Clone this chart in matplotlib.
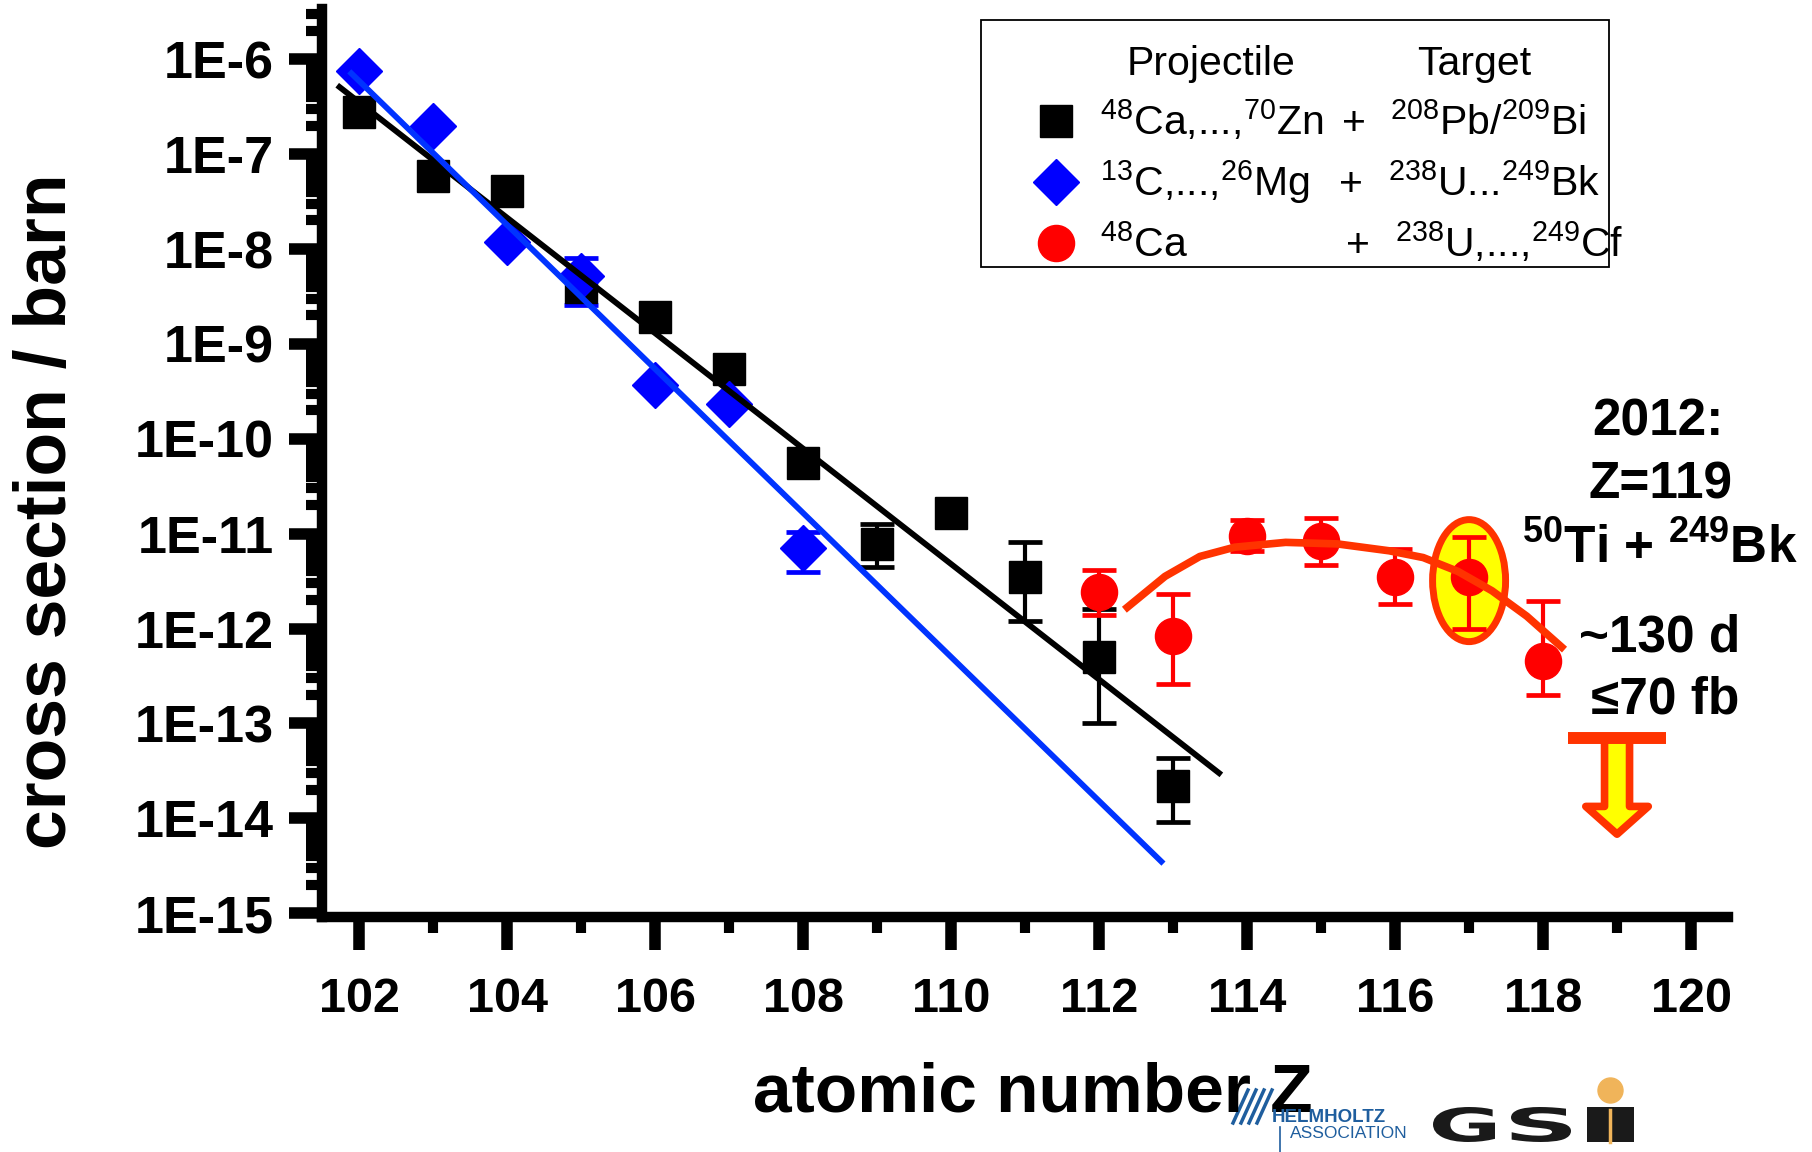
import numpy as np
import matplotlib
matplotlib.use('Agg')
import matplotlib.pyplot as plt
from matplotlib.patches import Ellipse, Rectangle, PathPatch
from matplotlib.lines import Line2D
from matplotlib.textpath import TextPath
from matplotlib.font_manager import FontProperties
from matplotlib.transforms import ScaledTranslation, Affine2D, IdentityTransform
from matplotlib.ticker import FixedLocator, FixedFormatter, LogLocator, NullFormatter

plt.rcParams['font.family'] = ['Liberation Sans', 'DejaVu Sans']
plt.rcParams['mathtext.fontset'] = 'custom'
plt.rcParams['mathtext.rm'] = 'Liberation Sans'
plt.rcParams['mathtext.bf'] = 'Liberation Sans:bold'
plt.rcParams['mathtext.it'] = 'Liberation Sans:italic'

# --- data (cross sections in barn) ---
# 48Ca,...,70Zn + 208Pb/209Bi (cold fusion)
z_cold = [102, 103, 104, 105, 106, 107, 108, 109, 110, 111, 112, 113]
xs_cold = [2.8e-7, 5.9e-8, 4.1e-8, 4.0e-9, 1.9e-9, 5.4e-10, 5.6e-11, 7.8e-12, 1.66e-11, 3.5e-12, 5.0e-13, 2.2e-14]
z_cold_err = [109, 111, 112, 113]
xs_cold_err = [7.8e-12, 3.5e-12, 5.0e-13, 2.2e-14]
cold_hi = [1.26e-11, 8.1e-12, 1.6e-12, 4.3e-14]
cold_lo = [4.5e-12, 1.2e-12, 1.0e-13, 9.1e-15]

# 13C,...,26Mg + 238U...249Bk
z_light = [102, 103, 104, 105, 106, 107, 108]
xs_light = [7.6e-7, 2.0e-7, 1.2e-8, 5.2e-9, 3.7e-10, 2.3e-10, 7.1e-12]
z_light_err = [105, 108]
xs_light_err = [5.2e-9, 7.1e-12]
light_hi = [8.1e-9, 1.05e-11]
light_lo = [2.6e-9, 3.9e-12]

# 48Ca + 238U,...,249Cf
z_hot = [112, 113, 114, 115, 116, 117, 118]
xs_hot = [2.4e-12, 8.3e-13, 9.5e-12, 8.3e-12, 3.5e-12, 3.5e-12, 4.5e-13]
hot_hi = [4.1e-12, 2.3e-12, 1.4e-11, 1.45e-11, 6.9e-12, 9.3e-12, 1.95e-12]
hot_lo = [1.4e-12, 2.6e-13, 6.5e-12, 4.7e-12, 1.8e-12, 1.0e-12, 2.0e-13]

# trend lines
z_fit_cold = [101.73, 113.62]
xs_fit_cold = [5.1e-7, 3.0e-14]
z_fit_light = [101.89, 112.84]
xs_fit_light = [7.1e-7, 3.5e-15]
z_fit_hot = [112.34, 112.89, 113.36, 113.83, 114.52, 115.22, 115.92, 116.38, 116.85, 117.31, 117.78, 118.29]
xs_fit_hot = [1.58e-12, 3.55e-12, 5.75e-12, 7.2e-12, 8.1e-12, 7.8e-12, 6.6e-12, 5.6e-12, 4.0e-12, 2.5e-12, 1.35e-12, 6.0e-13]

# Z=119 upper limit (70 fb)
z_limit = 119
xs_limit = 7e-14
xs_arrow_tip = 6.8e-15
z_highlight = 117
xs_highlight = 3.2e-12

ytick_vals = [1e-15, 1e-14, 1e-13, 1e-12, 1e-11, 1e-10, 1e-9, 1e-8, 1e-7, 1e-6]
ytick_labels = ['1E-15', '1E-14', '1E-13', '1E-12', '1E-11', '1E-10', '1E-9', '1E-8', '1E-7', '1E-6']

W, H = 1812, 1152
fig = plt.figure(figsize=(W / 100, H / 100), dpi=100)

def fx(px):
    return px / W

def fy(py):
    return 1 - py / H

ax = fig.add_axes([0.17798, 0.2040, 0.77566, 0.7882])
ax.set_yscale('log')
ax.set_xlim(101.5, 120.5)
ax.set_ylim(10 ** -15.04, 10 ** -5.47)

red = '#ff0000'
orange = '#ff3300'

# highlight ellipse around Z=117
ell = Ellipse((0, 0), 0.73, 1.22, facecolor='#ffff00', edgecolor=orange, lw=5,
              transform=fig.dpi_scale_trans + ScaledTranslation(z_highlight, xs_highlight, ax.transData),
              zorder=2)
ax.add_patch(ell)

# error bars
ax.errorbar(z_cold_err, xs_cold_err,
            yerr=[np.subtract(xs_cold_err, cold_lo), np.subtract(cold_hi, xs_cold_err)],
            fmt='none', ecolor='k', elinewidth=3, capsize=12, capthick=3.4, zorder=3)
ax.errorbar(z_light_err, xs_light_err,
            yerr=[np.subtract(xs_light_err, light_lo), np.subtract(light_hi, xs_light_err)],
            fmt='none', ecolor='#0000ff', elinewidth=3, capsize=12, capthick=3.4, zorder=3)
ax.errorbar(z_hot, xs_hot,
            yerr=[np.subtract(xs_hot, hot_lo), np.subtract(hot_hi, xs_hot)],
            fmt='none', ecolor=red, elinewidth=3, capsize=12, capthick=3.4, zorder=3)

# markers
ax.plot(z_cold, xs_cold, 's', ms=23, color='k', mec='k', mew=1, zorder=4)
ax.plot(z_light, xs_light, 'D', ms=23, color='#0000ff', mec='#0000ff', mew=1, zorder=4)
ax.plot(z_hot, xs_hot, 'o', ms=26, color=red, mec=red, mew=1, zorder=4)

# trend lines
ax.plot(z_fit_cold, xs_fit_cold, '-', color='k', lw=4.2, zorder=5)
ax.plot(z_fit_light, xs_fit_light, '-', color='#0033ff', lw=4.2, zorder=5)
ax.plot(z_fit_hot, xs_fit_hot, '-', color=orange, lw=5.5, zorder=5, solid_capstyle='butt')

# upper limit for Z=119
ax.annotate('', xy=(z_limit, xs_arrow_tip), xytext=(z_limit, xs_limit),
            arrowprops=dict(arrowstyle='simple,head_length=20,head_width=45,tail_width=18',
                            mutation_scale=1, fc='#ffff00', ec=orange, lw=5.5,
                            shrinkA=0, shrinkB=0),
            annotation_clip=False, zorder=5)
ax.hlines(xs_limit, z_limit - 0.66, z_limit + 0.66, color=orange, lw=8.6, zorder=6)

# axes styling
for s in ['top', 'right']:
    ax.spines[s].set_visible(False)
for s in ['left', 'bottom']:
    ax.spines[s].set_linewidth(7.5)
ax.set_xticks(np.arange(102, 121, 2))
ax.set_xticks(np.arange(103, 120, 2), minor=True)
ax.yaxis.set_major_locator(FixedLocator(ytick_vals))
ax.yaxis.set_major_formatter(FixedFormatter(ytick_labels))
ax.yaxis.set_minor_locator(LogLocator(base=10, subs=np.arange(2, 10), numticks=30))
ax.yaxis.set_minor_formatter(NullFormatter())
ax.tick_params(which='major', direction='out', length=24, width=8.3)
ax.tick_params(which='minor', direction='out', length=11.5, width=7.3)
ax.tick_params(axis='x', which='major', pad=19, labelsize=35)
ax.tick_params(axis='y', which='major', pad=11, labelsize=37.5)
for lab in ax.get_xticklabels() + ax.get_yticklabels():
    lab.set_fontweight('bold')

# axis titles
fig.text(fx(47), fy(511), 'cross section / barn', rotation=90, ha='center', va='center',
         fontsize=51.5, fontweight='bold')
fig.text(fx(1033), fy(1112), 'atomic number Z', ha='center', va='baseline',
         fontsize=50, fontweight='bold')

# legend box
fig.add_artist(Rectangle((fx(981), fy(267)), fx(1609) - fx(981), (267 - 20) / H,
                         transform=fig.transFigure, facecolor='white', edgecolor='k', lw=1.3, zorder=6))
leg_fs = 29.5
fig.text(fx(1211), fy(75), 'Projectile', ha='center', va='baseline', fontsize=leg_fs, zorder=7)
fig.text(fx(1474), fy(75), 'Target', ha='center', va='baseline', fontsize=leg_fs, zorder=7)
rows = [
    (135, 121, 's', 'k', 23, r'$^{48}$Ca,...,$^{70}$Zn', 1354, r'$^{208}$Pb/$^{209}$Bi', 1390),
    (196, 182, 'D', '#0000ff', 23, r'$^{13}$C,...,$^{26}$Mg', 1351, r'$^{238}$U...$^{249}$Bk', 1388),
    (257, 243, 'o', red, 26, r'$^{48}$Ca', 1358, r'$^{238}$U,...,$^{249}$Cf', 1395),
]
for base, my, mk, col, ms, proj, xplus, targ, xtarg in rows:
    fig.add_artist(Line2D([fx(1056)], [fy(my)], marker=mk, ms=ms, color=col, mec=col,
                          linestyle='none', transform=fig.transFigure, zorder=7))
    fig.text(fx(1100), fy(base), proj, ha='left', va='baseline', fontsize=leg_fs, zorder=7)
    fig.text(fx(xplus), fy(base), '+', ha='center', va='baseline', fontsize=leg_fs, zorder=7)
    fig.text(fx(xtarg), fy(base), targ, ha='left', va='baseline', fontsize=leg_fs, zorder=7)

# Z=119 annotation
ann_fs = 37
fig.text(fx(1658), fy(436), '2012:', ha='center', va='baseline', fontsize=ann_fs, fontweight='bold')
fig.text(fx(1660), fy(498), 'Z=119', ha='center', va='baseline', fontsize=ann_fs, fontweight='bold')
fig.text(fx(1660), fy(563), r'$^{\mathbf{50}}$Ti + $^{\mathbf{249}}$Bk', ha='center', va='baseline',
         fontsize=ann_fs, fontweight='bold')
fig.text(fx(1660), fy(651), '~130 d', ha='center', va='baseline', fontsize=ann_fs, fontweight='bold')
fig.text(fx(1665), fy(713), '\u226470 fb', ha='center', va='baseline', fontsize=ann_fs, fontweight='bold')

# logos (rough stand-ins)
hblue = '#1f5e9e'
for dx in [0, 8, 16, 24]:
    fig.add_artist(Line2D([fx(1233 + dx), fx(1248 + dx)], [fy(1123), fy(1090)], color=hblue, lw=2.5,
                          transform=fig.transFigure))
fig.text(fx(1272), fy(1122), 'HELMHOLTZ', ha='left', va='baseline', fontsize=13.5, fontweight='bold', color=hblue)
fig.text(fx(1290), fy(1138), 'ASSOCIATION', ha='left', va='baseline', fontsize=12.5, color=hblue)
fig.add_artist(Line2D([fx(1280), fx(1280)], [fy(1127), fy(1152)], color=hblue, lw=1.2, transform=fig.transFigure))

# blocky GSI letters, stretched into their boxes (pixel coords from top-left)
gsi_boxes = [('G', 1433, 1495), ('S', 1511, 1571), ('I', 1587, 1634)]
gsi_font = FontProperties(family='DejaVu Sans', weight='heavy')
for ch, x0, x1 in gsi_boxes:
    tp = TextPath((0, 0), ch, size=50, prop=gsi_font)
    ext = tp.get_extents()
    sx = (x1 - x0) / ext.width
    sy = (1142 - 1107) / ext.height
    tr = (Affine2D().translate(-ext.x0, -ext.y0).scale(sx, sy).translate(x0, H - 1142)
          + IdentityTransform())
    fig.add_artist(PathPatch(tp, transform=tr, facecolor='#1a1a1a', edgecolor='none'))
fig.add_artist(Line2D([fx(1610), fx(1610)], [fy(1110), fy(1142)], color='#f0b45a', lw=2.5,
                      transform=fig.transFigure))
fig.add_artist(Line2D([fx(1610)], [fy(1090)], marker='o', ms=18, color='#f0b45a', mec='#f0b45a',
                      linestyle='none', transform=fig.transFigure))

fig.savefig('out.png', dpi=100, facecolor='white')
